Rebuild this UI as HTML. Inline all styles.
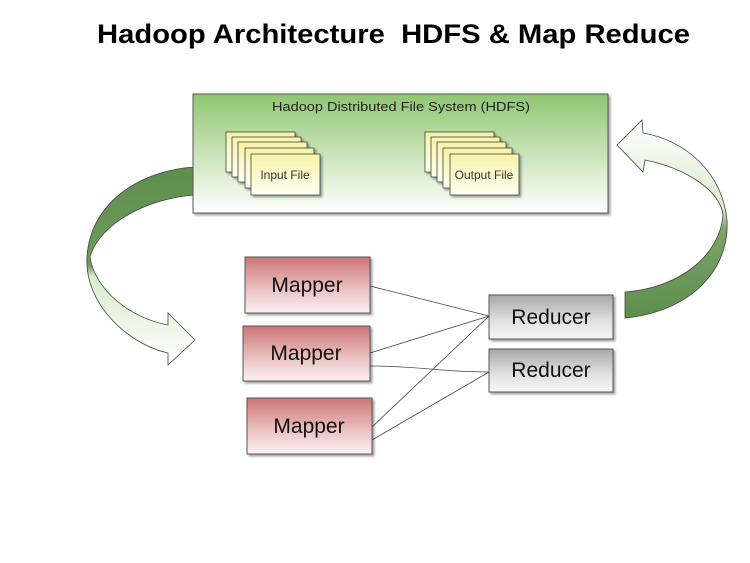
<!DOCTYPE html>
<html><head><meta charset="utf-8"><style>
body{margin:0;background:#fff;}
svg{display:block;}
text{font-family:"Liberation Sans",sans-serif;}
</style></head><body>
<svg width="750" height="563" viewBox="0 0 750 563" xmlns="http://www.w3.org/2000/svg">
<defs>
<linearGradient id="hdfs" x1="0" y1="0" x2="0" y2="1">
<stop offset="0" stop-color="#8fc672"/><stop offset="0.55" stop-color="#cfe6bf"/><stop offset="1" stop-color="#ffffff"/></linearGradient>
<linearGradient id="file" x1="0" y1="0" x2="0" y2="1">
<stop offset="0" stop-color="#f7f3a8"/><stop offset="1" stop-color="#fffff0"/></linearGradient>
<linearGradient id="map" x1="0" y1="0" x2="0" y2="1">
<stop offset="0" stop-color="#cc7675"/><stop offset="0.6" stop-color="#ebc4c4"/><stop offset="1" stop-color="#fbf2f2"/></linearGradient>
<linearGradient id="red" x1="0" y1="0" x2="0" y2="1">
<stop offset="0" stop-color="#a8a8a8"/><stop offset="0.6" stop-color="#e2e2e2"/><stop offset="1" stop-color="#f6f6f6"/></linearGradient>
<linearGradient id="la" x1="0" y1="0" x2="0" y2="1">
<stop offset="0" stop-color="#5e8d4c"/><stop offset="0.5" stop-color="#6f9c5c"/><stop offset="0.55" stop-color="#d8ebcc"/><stop offset="1" stop-color="#ffffff"/></linearGradient>
<linearGradient id="ra" x1="0" y1="1" x2="0" y2="0">
<stop offset="0" stop-color="#5e8d4c"/><stop offset="0.45" stop-color="#7aa566"/><stop offset="0.55" stop-color="#d8ebcc"/><stop offset="1" stop-color="#ffffff"/></linearGradient>
<filter id="sh" x="-10%" y="-10%" width="130%" height="130%"><feDropShadow dx="2" dy="2" stdDeviation="1" flood-color="#000" flood-opacity="0.35"/></filter>
</defs>

<text x="97" y="43" font-size="27" font-weight="bold" fill="#000" textLength="593" lengthAdjust="spacingAndGlyphs" xml:space="preserve">Hadoop Architecture  HDFS &amp; Map Reduce</text>

<!-- left arrow -->
<path d="M195,167 C140,170 90,203 87,257 C84,305 130,345 168,353 L168,365 L195,340 L168,313 L168,325 C130,318 95,290 90,257 C100,222 150,198 195,195 Z" fill="url(#la)" stroke="#444" stroke-width="0.8"/>
<!-- right arrow -->
<path d="M625,318 C690,312 730,270 727,220 C722,172 685,140 643,133 L642,120 L617,145 L643,172 L645,160 C685,168 720,190 723,215 C720,255 680,288 625,292 Z" fill="url(#ra)" stroke="#444" stroke-width="0.8"/>

<!-- HDFS -->
<rect x="193" y="94" width="415" height="119" fill="url(#hdfs)" stroke="#555" stroke-width="1" filter="url(#sh)"/>
<text x="272" y="111" font-size="13" fill="#222" textLength="258" lengthAdjust="spacingAndGlyphs">Hadoop Distributed File System (HDFS)</text>

<g stroke="#444" stroke-width="0.8" fill="url(#file)" filter="url(#sh)">
<rect x="226" y="132" width="69" height="40"/>
<rect x="232" y="137" width="69" height="40"/>
<rect x="238" y="142" width="69" height="40"/>
<rect x="245" y="148" width="69" height="40"/>
<rect x="251" y="154" width="69" height="41"/>
<rect x="425" y="132" width="69" height="40"/>
<rect x="431" y="137" width="69" height="40"/>
<rect x="437" y="142" width="69" height="40"/>
<rect x="443" y="148" width="69" height="40"/>
<rect x="450" y="154" width="69" height="41"/>
</g>
<text x="285" y="179" font-size="12" text-anchor="middle" fill="#333">Input File</text>
<text x="484" y="179" font-size="12" text-anchor="middle" fill="#333">Output File</text>

<!-- lines -->
<g stroke="#444" stroke-width="0.8" fill="none">
<line x1="370" y1="286" x2="489" y2="316"/>
<line x1="370" y1="353" x2="489" y2="316"/>
<path d="M370,366 C420,366 440,372 489,372"/>
<line x1="372" y1="427" x2="489" y2="316"/>
<line x1="372" y1="440" x2="489" y2="372"/>
</g>

<!-- mappers -->
<g stroke="#555" stroke-width="1" filter="url(#sh)">
<rect x="245" y="257" width="125" height="56" fill="url(#map)"/>
<rect x="243" y="326" width="127" height="55" fill="url(#map)"/>
<rect x="247" y="398" width="125" height="56" fill="url(#map)"/>
<rect x="489" y="295" width="124" height="44" fill="url(#red)"/>
<rect x="489" y="349" width="124" height="43" fill="url(#red)"/>
</g>
<g font-size="21" text-anchor="middle" fill="#111">
<text x="307" y="292">Mapper</text>
<text x="306" y="360">Mapper</text>
<text x="309" y="433">Mapper</text>
<text x="551" y="324">Reducer</text>
<text x="551" y="377">Reducer</text>
</g>
</svg>
</body></html>
